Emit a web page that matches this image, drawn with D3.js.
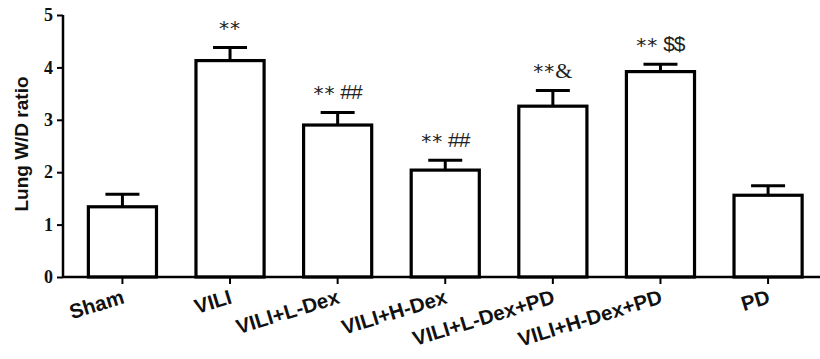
<!DOCTYPE html>
<html>
<head>
<meta charset="utf-8">
<script src="https://cdn.jsdelivr.net/npm/d3@7"></script>
<style>
  body { margin: 0; background: #fff; }
  svg { display: block; }
</style>
</head>
<body>
<div id="chart"></div>
<script>
// data
let groups = ['Sham', 'VILI', 'VILI+L-Dex', 'VILI+H-Dex', 'VILI+L-Dex+PD', 'VILI+H-Dex+PD', 'PD'];
let means = [1.34, 4.13, 2.90, 2.04, 3.26, 3.92, 1.56];
let errors = [0.24, 0.25, 0.24, 0.19, 0.30, 0.14, 0.18];
let marks = ['', '**', '** ##', '** ##', '**&', '** $$', ''];
let yTicks = [0, 1, 2, 3, 4, 5];

let width = 820, height = 359;
let margin = {top: 15, left: 63, bottom: 82};
let plotBottom = height - margin.bottom;

let svg = d3.select('#chart').append('svg').attr('width', width).attr('height', height);

let yScale = d3.scaleLinear().domain([0, 5]).range([plotBottom, margin.top]);
let xScale = d3.scaleBand().domain(groups).range([69, 821.5]).paddingInner(0.367).paddingOuter(0.18);

// bars
let bars = svg.append('g').attr('class', 'bars');
bars.selectAll('rect').data(groups).enter().append('rect')
  .attr('x', d => xScale(d))
  .attr('y', (d, i) => yScale(means[i]))
  .attr('width', xScale.bandwidth())
  .attr('height', (d, i) => plotBottom - yScale(means[i]))
  .attr('fill', '#fff')
  .attr('stroke', '#000')
  .attr('stroke-width', 3.2);

// error bars (upper only)
let err = svg.append('g').attr('class', 'errors');
groups.forEach((g, i) => {
  let cx = xScale(g) + xScale.bandwidth() / 2;
  err.append('line')
    .attr('x1', cx).attr('x2', cx)
    .attr('y1', yScale(means[i])).attr('y2', yScale(means[i] + errors[i]))
    .attr('stroke', '#000').attr('stroke-width', 3);
  err.append('line')
    .attr('x1', cx - 17).attr('x2', cx + 17)
    .attr('y1', yScale(means[i] + errors[i])).attr('y2', yScale(means[i] + errors[i]))
    .attr('stroke', '#000').attr('stroke-width', 3);
});

// significance marks
let ann = svg.append('g').attr('class', 'marks');
groups.forEach((g, i) => {
  if (!marks[i]) return;
  let cx = xScale(g) + xScale.bandwidth() / 2;
  let parts = marks[i].split(/(\*+)/).filter(s => s.length);
  let t = ann.append('text')
    .attr('x', cx)
    .attr('y', yScale(means[i] + errors[i]) - 12)
    .attr('text-anchor', 'middle')
    .attr('fill', '#222');
  parts.forEach(p => {
    if (p.startsWith('*')) {
      t.append('tspan').text(p).attr('font-family', 'DejaVu Sans').attr('font-size', 20).attr('letter-spacing', 1);
    } else if (p.trim() === '&') {
      t.append('tspan').text('&').attr('font-family', 'Liberation Serif').attr('font-size', 22);
    } else {
      t.append('tspan').text(p).attr('font-family', 'Liberation Sans').attr('font-size', 21).attr('dy', -1).attr('letter-spacing', -1);
    }
  });
});

// x axis
let xAxisG = svg.append('g').attr('class', 'xAxis');
xAxisG.append('line')
  .attr('x1', margin.left).attr('x2', width)
  .attr('y1', plotBottom).attr('y2', plotBottom)
  .attr('stroke', '#000').attr('stroke-width', 2.5);
groups.forEach(g => {
  let cx = xScale(g) + xScale.bandwidth() / 2;
  xAxisG.append('line')
    .attr('x1', cx).attr('x2', cx)
    .attr('y1', plotBottom).attr('y2', plotBottom + 7)
    .attr('stroke', '#000').attr('stroke-width', 2);
  xAxisG.append('text')
    .text(g)
    .attr('transform', 'translate(' + [cx + 3, plotBottom + 26] + ') rotate(-17)')
    .attr('text-anchor', 'end')
    .attr('font-family', 'Liberation Sans, Arial, sans-serif')
    .attr('font-weight', 'bold')
    .attr('font-size', 20.5)
    .attr('fill', '#111');
});

// y axis
let yAxis = d3.axisLeft(yScale).tickValues(yTicks).tickSize(6).tickFormat(d3.format('d'));
let yAxisG = svg.append('g').attr('class', 'yAxis')
  .attr('transform', 'translate(' + margin.left + ',0)')
  .call(yAxis);
yAxisG.select('.domain').attr('stroke-width', 2.5).attr('d', 'M0,' + yScale(5) + 'V' + plotBottom);
yAxisG.selectAll('.tick line').attr('stroke-width', 2);
yAxisG.selectAll('.tick text')
  .attr('font-family', 'Liberation Serif, Times New Roman, serif')
  .attr('font-weight', 'bold')
  .attr('font-size', 18)
  .attr('x', -10)
  .attr('fill', '#111');

svg.append('text')
  .text('Lung W/D ratio')
  .attr('transform', 'translate(' + [28, 144] + ') rotate(-90)')
  .attr('text-anchor', 'middle')
  .attr('font-family', 'Liberation Sans, Arial, sans-serif')
  .attr('font-weight', 'bold')
  .attr('font-size', 19)
  .attr('fill', '#111');
</script>
</body>
</html>
